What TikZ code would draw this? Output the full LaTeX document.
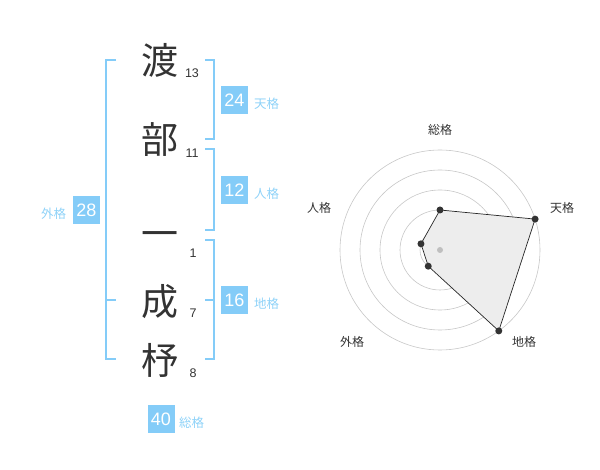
\documentclass[tikz,border=0pt]{standalone}
\usepackage{fontspec}
\setmainfont{Liberation Sans}
\newfontfamily\cjk{Noto Sans CJK JP}
\usetikzlibrary{calc}
\definecolor{kakublue}{HTML}{84CCF8}
\definecolor{kakutext}{HTML}{8ED2F8}
\definecolor{inkgray}{HTML}{333333}
\tikzset{
  moji/.style={font=\cjk\fontsize{37}{37}\selectfont, text=inkgray, inner sep=0},
  kakusu/.style={font=\fontsize{12.5}{12.5}\selectfont, text=inkgray, inner sep=0},
  kakubox/.style={fill=kakublue, text=white, minimum width=27pt, minimum height=28pt, inner sep=0, font=\fontsize{18}{18}\selectfont},
  kakuname/.style={text=kakutext, font=\cjk\fontsize{12.5}{12.5}\selectfont, inner sep=0},
  bracket/.style={draw=kakublue, line width=2pt},
  ring/.style={draw=black!22, line width=0.6pt},
  radarname/.style={font=\cjk\fontsize{12}{12}\selectfont, text=inkgray, inner sep=0},
  dot/.style={circle, fill=inkgray, inner sep=0, minimum size=7pt},
}
\begin{document}
\begin{tikzpicture}[x=1pt,y=-1pt]
\useasboundingbox (0,0) rectangle (600,470);
% name
\node [moji] (watari) at (160,60) {渡};
\node [moji] (be) at (160,140) {部};
\node [moji] (ichi) at (160,240) {一};
\node [moji] (nari) at (160,302) {成};
\node [moji] (hi) at (160,360) {杼};
\node [kakusu] (n13) at (192,73) {13};
\node [kakusu] (n11) at (192,153) {11};
\node [kakusu] (n1) at (193,253) {1};
\node [kakusu] (n7) at (193,313) {7};
\node [kakusu] (n8) at (193,373) {8};
% brackets
\draw [bracket] (116,60)--(106,60)--(106,359)--(116,359);
\draw [bracket] (106,300)--(116,300);
\draw [bracket] (205,60)--(214,60)--(214,139)--(205,139);
\draw [bracket] (205,149)--(214,149)--(214,230)--(205,230);
\draw [bracket] (205,240)--(214,240)--(214,359)--(205,359);
\draw [bracket] (205,300)--(214,300);
% kaku
\node [kakubox] (ten) at (234.5,100) {24};
\node [kakuname, anchor=west] (tenname) at (254,104) {天格};
\node [kakubox] (jin) at (234.5,190) {12};
\node [kakuname, anchor=west] (jinname) at (254,194) {人格};
\node [kakubox] (chi) at (234.5,300) {16};
\node [kakuname, anchor=west] (chiname) at (254,304) {地格};
\node [kakubox] (gai) at (86.5,210) {28};
\node [kakuname] (gainame) at (53.5,214) {外格};
\node [kakubox] (sou) at (161,419) {40};
\node [kakuname, anchor=west] (souname) at (179,423) {総格};
% radar
\coordinate (c) at (440,250);
\foreach \r in {20,40,60,80,100}
  \draw [ring] (c) circle (\r pt);
\coordinate (psou) at ($(c)+(90:40pt)$);
\coordinate (pten) at ($(c)+(18:100pt)$);
\coordinate (pchi) at ($(c)+(-54:100pt)$);
\coordinate (pgai) at ($(c)+(-126:20pt)$);
\coordinate (pjin) at ($(c)+(162:20pt)$);
\draw [fill=black!7, draw=black!85, line width=0.7pt] (psou)--(pten)--(pchi)--(pgai)--(pjin)--cycle;
\fill [black!25] (c) circle (3pt);
\foreach \p in {psou,pten,pchi,pgai,pjin}
  \node [dot] at (\p) {};
\node [radarname] (rsou) at (440,130) {総格};
\node [radarname] (rten) at (562,208) {天格};
\node [radarname] (rchi) at (524,342) {地格};
\node [radarname] (rgai) at (352,342) {外格};
\node [radarname] (rjin) at (319,208) {人格};
\end{tikzpicture}
\end{document}
